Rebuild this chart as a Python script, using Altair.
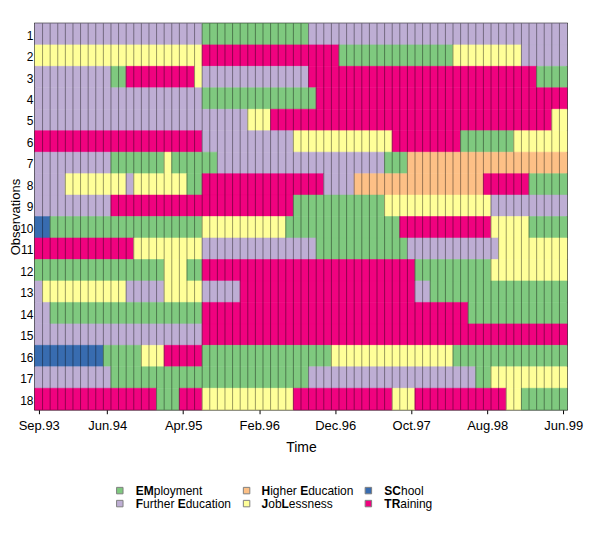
import json
import altair as alt
import pandas as pd

# ---- data -------------------------------------------------------------
states = ["EM", "FE", "HE", "JL", "SC", "TR"]
state_colors = ["#7FC97F", "#BEAED4", "#FDC086", "#FFFF99", "#386CB0", "#F0027F"]

# legend texts split into (text, bold) pieces
legend_pieces = {
    "EM": [("EM", True), ("ployment", False)],
    "FE": [("F", True), ("urther ", False), ("E", True), ("ducation", False)],
    "HE": [("H", True), ("igher ", False), ("E", True), ("ducation", False)],
    "JL": [("J", True), ("ob", False), ("L", True), ("essness", False)],
    "SC": [("SC", True), ("hool", False)],
    "TR": [("TR", True), ("aining", False)],
}

n_months = 70
tick_months = [1, 10, 20, 30, 40, 50, 60, 70]
tick_labels = ["Sep.93", "Jun.94", "Apr.95", "Feb.96", "Dec.96", "Oct.97", "Aug.98", "Jun.99"]

# sequences as (state, run length)
seq01 = [("FE", 22), ("EM", 14), ("FE", 34)]
seq02 = [("JL", 22), ("TR", 18), ("EM", 15), ("JL", 9), ("FE", 6)]
seq03 = [("FE", 10), ("EM", 2), ("TR", 9), ("JL", 1), ("FE", 14), ("TR", 30), ("EM", 4)]
seq04 = [("FE", 22), ("EM", 15), ("TR", 33)]
seq05 = [("FE", 28), ("JL", 3), ("TR", 37), ("JL", 2)]
seq06 = [("TR", 22), ("FE", 12), ("JL", 13), ("TR", 9), ("EM", 7), ("JL", 7)]
seq07 = [("FE", 10), ("EM", 7), ("JL", 1), ("EM", 6), ("FE", 22), ("EM", 3), ("HE", 21)]
seq08 = [("FE", 4), ("JL", 8), ("FE", 1), ("JL", 7), ("EM", 2), ("TR", 16), ("FE", 4),
         ("HE", 17), ("TR", 6), ("EM", 5)]
seq09 = [("FE", 10), ("TR", 24), ("EM", 12), ("JL", 14), ("FE", 10)]
seq10 = [("SC", 2), ("EM", 20), ("JL", 11), ("EM", 15), ("TR", 12), ("JL", 5), ("EM", 5)]
seq11 = [("TR", 13), ("JL", 9), ("FE", 15), ("EM", 12), ("FE", 12), ("JL", 9)]
seq12 = [("EM", 17), ("JL", 3), ("EM", 2), ("TR", 28), ("EM", 10), ("JL", 10)]
seq13 = [("FE", 1), ("JL", 11), ("FE", 5), ("JL", 5), ("FE", 5), ("TR", 23), ("FE", 2), ("EM", 18)]
seq14 = [("FE", 2), ("EM", 20), ("TR", 35), ("EM", 13)]
seq15 = [("FE", 22), ("TR", 48)]
seq16 = [("SC", 9), ("EM", 5), ("JL", 3), ("TR", 5), ("EM", 17), ("JL", 16), ("EM", 15)]
seq17 = [("FE", 10), ("EM", 26), ("FE", 22), ("EM", 2), ("JL", 10)]
seq18 = [("TR", 16), ("EM", 3), ("TR", 3), ("JL", 12), ("TR", 13), ("JL", 3), ("TR", 12),
         ("JL", 2), ("EM", 6)]

sequences = [seq01, seq02, seq03, seq04, seq05, seq06, seq07, seq08, seq09,
             seq10, seq11, seq12, seq13, seq14, seq15, seq16, seq17, seq18]

# ---- tables -----------------------------------------------------------
rows = []
for i, seq in enumerate(sequences, start=1):
    pos = 0
    for st, ln in seq:
        rows.append({"obs": i, "start": pos, "end": pos + ln, "state": st})
        pos += ln
seg = pd.DataFrame(rows)

bounds = pd.DataFrame({"b": list(range(1, n_months))})

# Liberation Sans (Arial) advance widths, per 1000 em
reg_w = {"a": 556, "b": 556, "c": 500, "d": 556, "e": 556, "g": 556, "h": 556, "i": 222,
         "l": 222, "m": 833, "n": 556, "o": 556, "p": 556, "r": 333, "s": 500, "t": 278,
         "u": 556, "y": 500, " ": 278}
bold_w = {"E": 667, "M": 833, "F": 611, "H": 722, "J": 556, "L": 611, "S": 667, "C": 722,
          "T": 611, "R": 722}
fs_leg = 12

# legend layout (pixels relative to plot origin)
leg_sq_x = [85, 212, 334]
leg_tx_x = [101, 227, 350]
leg_sq_y = [468, 481]
leg_tx_y = [472, 485.5]

sq_rows, tx_rows = [], []
for k, st in enumerate(states):
    c, r = k // 2, k % 2
    sq_rows.append({"state": st, "sx": leg_sq_x[c], "sy": leg_sq_y[r]})
    x = leg_tx_x[c]
    for txt, bold in legend_pieces[st]:
        tx_rows.append({"txt": txt, "bold": bold, "tx": x, "ty": leg_tx_y[r]})
        table = bold_w if bold else reg_w
        x += sum(table[ch] for ch in txt) / 1000 * fs_leg
leg_sq = pd.DataFrame(sq_rows)
leg_tx = pd.DataFrame(tx_rows)

# ---- chart ------------------------------------------------------------
tick_vals = [m - 0.5 for m in tick_months]
label_expr = f"{json.dumps(tick_labels)}[indexof({json.dumps(tick_vals)}, datum.value)]"

color_scale = alt.Scale(domain=states, range=state_colors)
xscale = alt.Scale(domain=[0, n_months], nice=False, zero=False)

x_axis = alt.Axis(values=tick_vals, labelExpr=label_expr, title="Time",
                  domain=False, grid=False, tickSize=4, tickColor="black",
                  labelPadding=6, labelFontSize=13, titleFontSize=14,
                  titleFontWeight="normal", titleY=38, titleBaseline="middle",
                  labelColor="black", titleColor="black", labelFlush=False,
                  labelOverlap=False)

rects = alt.Chart(seg).mark_rect(strokeWidth=0.6).encode(
    x=alt.X("start:Q", scale=xscale, axis=x_axis),
    x2="end:Q",
    y=alt.Y("obs:O", scale=alt.Scale(paddingInner=0, paddingOuter=0),
            axis=alt.Axis(title="Observations", domain=False, ticks=False, tickSize=0,
                          labelPadding=2, labelFontSize=12, titleFontSize=13,
                          titleFontWeight="normal", labelAngle=0, labelOffset=1.5,
                          titleX=-15, titleY=193.5, titleBaseline="alphabetic",
                          titleAlign="center", titleAngle=270,
                          labelColor="black", titleColor="black")),
    color=alt.Color("state:N", scale=color_scale, legend=None),
    stroke=alt.Stroke("state:N", scale=color_scale, legend=None),
)

lines = alt.Chart(bounds).mark_rule(color="black", opacity=0.4, strokeWidth=1).encode(
    x=alt.X("b:Q", scale=xscale, axis=x_axis)
)

plot = alt.layer(rects, lines)

sq = alt.Chart(leg_sq).mark_square(size=42, stroke="#808080", strokeWidth=1, opacity=1).encode(
    x=alt.X("sx:Q", scale=None, axis=None),
    y=alt.Y("sy:Q", scale=None, axis=None),
    color=alt.Color("state:N", scale=color_scale, legend=None),
)

txt_bold = alt.Chart(leg_tx).transform_filter("datum.bold").mark_text(
    align="left", baseline="alphabetic", fontSize=fs_leg, fontWeight="bold",
    font="Liberation Sans", color="black").encode(
    x=alt.X("tx:Q", scale=None, axis=None),
    y=alt.Y("ty:Q", scale=None, axis=None),
    text="txt:N",
)
txt_reg = alt.Chart(leg_tx).transform_filter("!datum.bold").mark_text(
    align="left", baseline="alphabetic", fontSize=fs_leg,
    font="Liberation Sans", color="black").encode(
    x=alt.X("tx:Q", scale=None, axis=None),
    y=alt.Y("ty:Q", scale=None, axis=None),
    text="txt:N",
)

chart = alt.layer(plot, sq, txt_bold, txt_reg).resolve_scale(
    x="independent", y="independent"
).properties(
    width=533, height=387,
    padding={"left": 27, "top": 15, "right": 17, "bottom": 112},
    autosize=alt.AutoSizeParams(type="none"),
).configure_view(
    stroke="black", strokeWidth=1.5
).configure_axis(
    labelFont="Liberation Sans", titleFont="Liberation Sans"
)

chart.save("out.html", embed_options={"renderer": "svg", "actions": False})
